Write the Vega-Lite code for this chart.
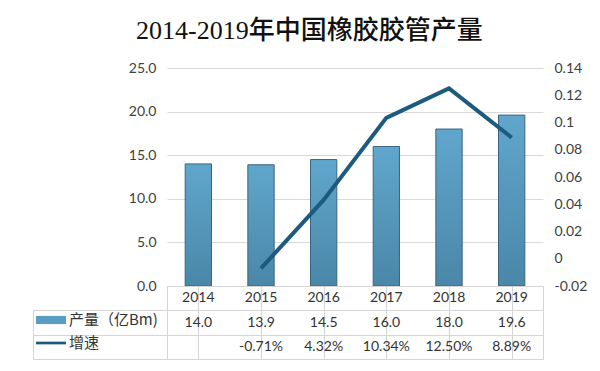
{
  "$schema": "https://vega.github.io/schema/vega-lite/v6.json",
  "background": "white",
  "padding": {"left": 32, "top": 18, "right": 5, "bottom": 5},
  "bounds": "flush",
  "title": {
    "text": "2014-2019年中国橡胶胶管产量",
    "font": "Liberation Serif, Noto Sans CJK SC",
    "fontSize": 26,
    "fontWeight": 500,
    "color": "#111111",
    "anchor": "middle",
    "offset": 17
  },
  "datasets": {
    "main": [
      {"year": "2014", "output": 14.0, "growth": null},
      {"year": "2015", "output": 13.9, "growth": -0.0071},
      {"year": "2016", "output": 14.5, "growth": 0.0432},
      {"year": "2017", "output": 16.0, "growth": 0.1034},
      {"year": "2018", "output": 18.0, "growth": 0.125},
      {"year": "2019", "output": 19.6, "growth": 0.0889}
    ],
    "series": [
      {"series": "产量（亿Bm)"},
      {"series": "增速"}
    ]
  },
  "spacing": 0,
  "vconcat": [
    {
      "width": 376,
      "height": 218,
      "data": {"name": "main"},
      "layer": [
        {
          "mark": {
            "type": "bar",
            "width": {"band": 0.42},
            "color": {
              "gradient": "linear",
              "x1": 0, "y1": 0, "x2": 0, "y2": 1,
              "stops": [
                {"offset": 0, "color": "#60a6cc"},
                {"offset": 1, "color": "#4a87a8"}
              ]
            },
            "stroke": "#3b6580",
            "strokeWidth": 1
          },
          "encoding": {
            "x": {
              "field": "year", "type": "ordinal",
              "scale": {"paddingInner": 0, "paddingOuter": 0},
              "axis": null
            },
            "y": {
              "field": "output", "type": "quantitative",
              "scale": {"domain": [0, 25]},
              "axis": {
                "title": null,
                "values": [0, 5, 10, 15, 20, 25],
                "format": ".1f",
                "domain": false,
                "ticks": false,
                "labelPadding": 11,
                "gridColor": "#d9d9d9"
              }
            }
          }
        },
        {
          "mark": {"type": "line", "color": "#1c5a7e", "strokeWidth": 4},
          "encoding": {
            "x": {"field": "year", "type": "ordinal"},
            "y": {
              "field": "growth", "type": "quantitative",
              "scale": {"domain": [-0.02, 0.14]},
              "axis": {
                "title": null,
                "orient": "right",
                "values": [-0.02, 0, 0.02, 0.04, 0.06, 0.08, 0.1, 0.12, 0.14],
                "format": "~r",
                "grid": false,
                "domain": false,
                "ticks": false,
                "labelPadding": 11
              }
            }
          }
        }
      ],
      "resolve": {"scale": {"y": "independent"}}
    },
    {
      "width": 376,
      "height": 73,
      "view": {"stroke": "#d4d4d4"},
      "layer": [
        {
          "data": {"name": "main"},
          "mark": {"type": "text", "fontSize": 14, "color": "#333333"},
          "encoding": {
            "x": {
              "field": "year", "type": "ordinal",
              "scale": {"paddingInner": 0, "paddingOuter": 0},
              "axis": {
                "title": null,
                "labels": false,
                "ticks": false,
                "domain": false,
                "grid": true,
                "bandPosition": 0,
                "gridColor": "#d4d4d4"
              }
            },
            "y": {
              "datum": "年份", "type": "nominal",
              "scale": {"domain": ["年份", "产量（亿Bm)", "增速"], "paddingInner": 0, "paddingOuter": 0},
              "axis": {
                "title": null,
                "orient": "left",
                "labels": false,
                "domain": false,
                "values": ["产量（亿Bm)", "增速"],
                "ticks": true,
                "tickBand": "extent",
                "tickSize": 134,
                "tickColor": "#d4d4d4",
                "grid": true,
                "gridColor": "#d4d4d4"
              }
            },
            "text": {"field": "year"}
          }
        },
        {
          "data": {"name": "main"},
          "mark": {"type": "text", "fontSize": 14, "color": "#333333"},
          "encoding": {
            "x": {"field": "year", "type": "ordinal"},
            "y": {
              "datum": "产量（亿Bm)", "type": "nominal",
              "axis": {
                "title": null,
                "orient": "left",
                "offset": 134,
                "labels": false,
                "ticks": false,
                "grid": false,
                "domain": true,
                "domainColor": "#d4d4d4",
                "domainDash": [0, 24, 60]
              }
            },
            "text": {"field": "output", "type": "quantitative", "format": ".1f"}
          }
        },
        {
          "data": {"name": "main"},
          "transform": [{"filter": "datum.growth != null"}],
          "mark": {"type": "text", "fontSize": 14, "color": "#333333"},
          "encoding": {
            "x": {"field": "year", "type": "ordinal"},
            "y": {"datum": "增速", "type": "nominal", "axis": null},
            "text": {"field": "growth", "type": "quantitative", "format": ".2%"}
          }
        },
        {
          "data": {"name": "series"},
          "mark": {"type": "point", "filled": true, "opacity": 0},
          "encoding": {
            "shape": {
              "field": "series", "type": "nominal",
              "scale": {
                "domain": ["产量（亿Bm)", "增速"],
                "range": ["M-1,-0.27H1V0.27H-1Z", "M-1,-0.09H1V0.09H-1Z"]
              },
              "legend": {"title": null}
            },
            "color": {
              "field": "series", "type": "nominal",
              "scale": {
                "domain": ["产量（亿Bm)", "增速"],
                "range": ["#5a9dc2", "#1c5a7e"]
              },
              "legend": {"title": null}
            }
          }
        }
      ],
      "resolve": {"axis": {"y": "independent"}}
    }
  ],
  "config": {
    "locale": {
      "number": {"decimal": ".", "thousands": ",", "grouping": [3], "currency": ["$", ""], "minus": "-"}
    },
    "font": "Lato, Noto Sans CJK SC",
    "view": {"stroke": null},
    "axis": {"labelFont": "Lato", "labelFontSize": 14, "labelColor": "#404040"},
    "text": {"font": "Lato"},
    "legend": {
      "orient": "none",
      "legendX": -131,
      "legendY": 237,
      "symbolSize": 900,
      "symbolOpacity": 1,
      "symbolStrokeWidth": 0,
      "rowPadding": -6,
      "labelOffset": 3,
      "labelFont": "Noto Sans CJK SC",
      "labelFontSize": 15,
      "labelColor": "#333333",
      "padding": 0
    }
  }
}
